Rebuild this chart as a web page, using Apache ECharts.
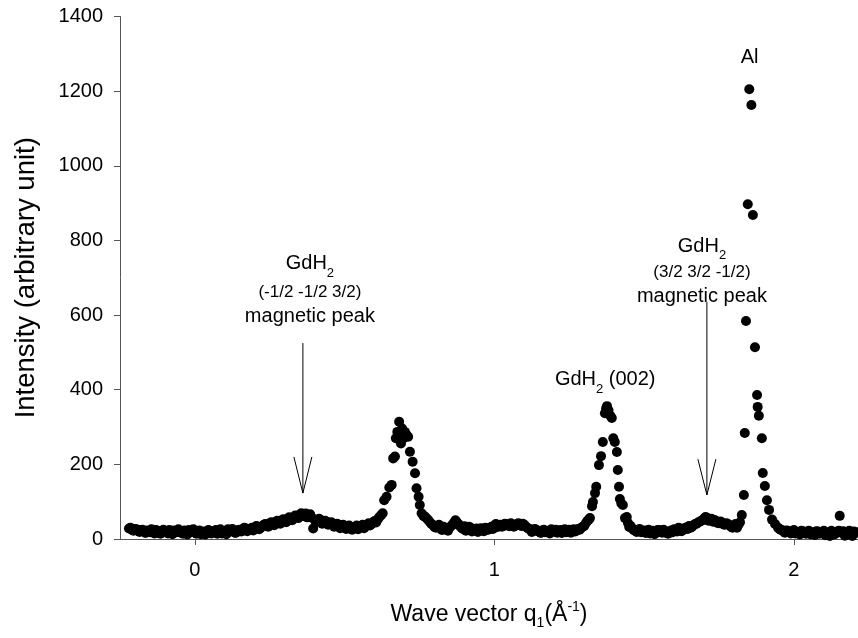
<!DOCTYPE html>
<html><head><meta charset="utf-8">
<script src="https://cdn.jsdelivr.net/npm/echarts@6/dist/echarts.min.js"></script>
<style>html,body{margin:0;padding:0;background:#fff}#c{width:858px;height:638px}</style>
</head><body><div id="c"></div>
<script>
// Scattered neutron intensity vs wave vector, split by region
const segLeft = [
 [-0.22,28],[-0.21,25],[-0.20,27],[-0.19,22],[-0.18,24],[-0.17,20],[-0.16,23],[-0.15,18],[-0.14,21],[-0.13,24],
 [-0.12,17],[-0.11,20],[-0.10,22],[-0.09,15],[-0.08,19],[-0.07,23],[-0.06,18],[-0.05,21],[-0.04,14],[-0.03,20],
 [-0.02,24],[-0.01,19],[0.00,22],[0.01,17],[0.02,13],[0.03,20],[0.04,16],[0.05,22],[0.06,18],[0.07,24],
 [0.08,19],[0.09,15],[0.10,21],[0.11,26],[0.12,20],[0.13,23],[0.14,18],[0.15,25],[0.16,22],[0.17,28],
 [0.18,24],[0.19,30],[0.20,27],[0.21,33],[0.22,30],[0.23,38],[0.24,35],[0.25,42],[0.26,40],[0.27,46],
 [0.28,44],[0.29,50],[0.30,48],[0.31,55],[0.32,52],[0.33,58],[0.34,62],[0.35,60],[0.36,66],[0.37,68],
 [0.38,62],[0.39,57],[0.395,28],[0.40,52],[0.41,48],[0.42,50],[0.43,44],[0.44,46],[0.45,40],[0.46,42],
 [0.47,36],[0.48,38],[0.49,32],[0.50,35],[0.51,30],[0.52,33],[0.53,28],[0.54,36],[0.55,31],[0.56,38],
 [0.57,34],[0.58,42],[0.59,40],[0.60,48],[0.61,52],[0.615,58]
];
const segLeftB = [
 [-0.215,30],[-0.205,22],[-0.195,26],[-0.185,19],[-0.175,25],[-0.165,16],[-0.155,21],[-0.145,26],[-0.135,15],
 [-0.125,22],[-0.115,14],[-0.105,25],[-0.095,20],[-0.085,24],[-0.075,13],[-0.065,21],[-0.055,26],[-0.045,17],
 [-0.035,23],[-0.025,12],[-0.015,21],[-0.005,26],[0.005,14],[0.015,23],[0.025,18],[0.035,12],[0.045,24],
 [0.055,15],[0.065,21],[0.075,14],[0.085,26],[0.095,20],[0.105,13],[0.115,22],[0.125,27],[0.135,16],
 [0.145,24],[0.155,20],[0.165,30],[0.175,21],[0.185,27],[0.195,23],[0.205,35],[0.215,26],[0.225,34],
 [0.235,40],[0.245,33],[0.255,45],[0.265,37],[0.275,49],[0.285,41],[0.295,53],[0.305,45],[0.315,58],
 [0.325,50],[0.335,63],[0.345,56],[0.355,69],[0.365,61],[0.375,58],[0.385,66],[0.405,45],[0.415,54],
 [0.425,41],[0.435,49],[0.445,38],[0.455,45],[0.465,33],[0.475,41],[0.485,29],[0.495,38],[0.505,27],
 [0.515,36],[0.525,25],[0.535,32],[0.545,26],[0.555,35],[0.565,29],[0.575,38],[0.585,36],[0.595,45],[0.605,44]
];
const segPeakA = [
 [0.622,64],[0.627,69],[0.632,104],[0.640,113],[0.649,138],[0.657,145],[0.662,216],[0.668,221],[0.671,270],
 [0.676,287],[0.682,314],[0.688,256],[0.692,296],[0.697,270],[0.701,287],[0.706,280],[0.712,274],[0.718,234],
 [0.727,207],[0.735,176],[0.740,136],[0.747,113],[0.751,91],[0.757,69],[0.763,62],[0.768,60],[0.774,55],
 [0.779,51],[0.785,45],[0.790,40],[0.796,37],[0.800,32]
];
const segMid = [
 [0.81,35],[0.82,28],[0.83,33],[0.84,25],[0.85,30],[0.86,38],[0.87,50],[0.875,45],[0.88,40],[0.89,30],
 [0.90,34],[0.91,26],[0.92,31],[0.93,24],[0.94,28],[0.95,22],[0.96,27],[0.97,30],[0.98,25],[0.99,33],
 [1.00,36],[1.01,32],[1.02,38],[1.03,35],[1.04,40],[1.05,34],[1.06,38],[1.07,36],[1.08,42],[1.09,35],
 [1.10,38],[1.11,30],[1.12,26],[1.13,22],[1.14,25],[1.15,19],[1.16,23],[1.17,18],[1.18,22],[1.19,26],
 [1.20,20],[1.21,17],[1.22,24],[1.23,21],[1.24,18],[1.25,25],[1.26,22],[1.27,20],[1.28,27],[1.29,30],
 [1.30,35],[1.305,42],[1.31,48],[1.315,52]
];
const segMidB = [
 [0.805,30],[0.815,38],[0.825,24],[0.835,29],[0.845,22],[0.855,34],[0.865,44],[0.885,35],[0.895,27],
 [0.905,22],[0.915,33],[0.925,20],[0.935,26],[0.945,19],[0.955,29],[0.965,21],[0.975,26],[0.985,30],
 [0.995,27],[1.005,40],[1.015,35],[1.025,33],[1.035,41],[1.045,36],[1.055,42],[1.065,33],[1.075,40],
 [1.085,37],[1.095,41],[1.105,33],[1.115,27],[1.125,19],[1.135,27],[1.145,21],[1.155,16],[1.165,25],
 [1.175,21],[1.185,15],[1.195,22],[1.205,25],[1.215,20],[1.225,16],[1.235,26],[1.245,22],[1.255,17],
 [1.265,26],[1.275,23],[1.285,25],[1.295,33]
];
const segPeakB = [
 [1.319,56],[1.326,88],[1.329,99],[1.336,123],[1.340,140],[1.349,198],[1.356,222],[1.362,260],[1.369,337],
 [1.373,350],[1.376,356],[1.381,345],[1.387,330],[1.392,324],[1.397,270],[1.402,260],[1.409,233],[1.412,185],
 [1.416,140],[1.419,107],[1.424,95],[1.429,91],[1.436,56],[1.442,59],[1.446,43],[1.450,32]
];
const segRight = [
 [1.46,28],[1.47,22],[1.48,25],[1.49,18],[1.50,23],[1.51,20],[1.52,15],[1.53,22],[1.54,19],[1.55,24],
 [1.56,17],[1.57,21],[1.58,14],[1.59,23],[1.60,26],[1.61,20],[1.62,28],[1.63,24],[1.64,31],[1.65,35],
 [1.66,33],[1.67,40],[1.68,44],[1.69,48],[1.70,55],[1.705,59],[1.71,57],[1.72,52],[1.725,54],[1.73,46],
 [1.74,48],[1.75,42],[1.76,44],[1.77,38],[1.78,40],[1.79,33],[1.80,36],[1.81,30],[1.815,38],[1.82,45]
];
const segRightB = [
 [1.455,35],[1.465,24],[1.475,19],[1.485,27],[1.495,21],[1.505,16],[1.515,25],[1.525,19],[1.535,13],
 [1.545,24],[1.555,20],[1.565,25],[1.575,16],[1.585,20],[1.595,18],[1.605,24],[1.615,30],[1.625,21],
 [1.635,29],[1.645,27],[1.655,30],[1.665,37],[1.675,41],[1.685,46],[1.695,50],[1.715,49],[1.735,51],
 [1.745,43],[1.755,47],[1.765,39],[1.775,42],[1.785,37],[1.795,30],[1.805,40]
];
const segAl = [
 [1.826,64],[1.833,118],[1.836,284],[1.840,584],[1.846,897],[1.851,1205],[1.858,1163],[1.863,868],[1.870,514],
 [1.877,386],[1.879,354],[1.883,330],[1.893,270],[1.896,177],[1.903,142],[1.910,104],[1.917,78],[1.927,52],
 [1.937,40],[1.947,30]
];
const segTail = [
 [1.955,25],[1.965,20],[1.975,23],[1.985,18],[1.995,21],[2.005,15],[2.015,19],[2.025,22],[2.035,16],[2.045,20],
 [2.055,13],[2.065,18],[2.075,21],[2.085,14],[2.095,19],[2.105,10],[2.115,17],[2.125,22],[2.135,12],[2.145,20],
 [2.153,62],[2.16,16],[2.17,9],[2.18,18],[2.19,14],[2.20,20],[2.21,17]
];
const segTailB = [
 [1.95,28],[1.96,24],[1.97,17],[1.98,22],[1.99,15],[2.00,24],[2.01,18],[2.02,12],[2.03,21],[2.04,14],
 [2.05,22],[2.06,16],[2.07,11],[2.08,20],[2.09,16],[2.10,22],[2.11,14],[2.12,8],[2.13,19],[2.14,15],
 [2.15,22],[2.165,21],[2.175,13],[2.185,22],[2.195,8],[2.205,19]
];
const xTickValues = [0, 1, 2];
const yMin = 0, yMax = 1400, yStep = 200;

const FONT = '"Liberation Sans", Arial, Helvetica, sans-serif';
const chart = echarts.init(document.getElementById('c'), null, {renderer: 'canvas'});
const allPoints = [].concat(segLeft, segLeftB, segPeakA, segMid, segMidB, segPeakB,
  segRight, segRightB, segAl, segTail, segTailB);

chart.setOption({
  animation: false,
  backgroundColor: '#fff',
  grid: {left: 120, right: 0, top: 16.5, bottom: 99, containLabel: false},
  xAxis: {
    type: 'value', min: -0.25, max: 2.214,
    splitLine: {show: false},
    axisLine: {show: true, onZero: false, lineStyle: {color: '#555', width: 1}},
    axisTick: {show: true, inside: false, length: 6, customValues: xTickValues, lineStyle: {color: '#555'}},
    axisLabel: {customValues: xTickValues, color: '#000', fontSize: 20, fontFamily: FONT, margin: 21},
    name: '{t|Wave vector q}{sub|1}{t|(Å}{sup|-1}{t|)}',
    nameLocation: 'middle', nameGap: 61,
    nameTextStyle: {
      color: '#000', fontFamily: FONT, fontSize: 23,
      rich: {
        t: {fontSize: 23, fontFamily: FONT, color: '#000', lineHeight: 30, verticalAlign: 'middle'},
        sub: {fontSize: 14, fontFamily: FONT, color: '#000', lineHeight: 30, verticalAlign: 'bottom'},
        sup: {fontSize: 14, fontFamily: FONT, color: '#000', lineHeight: 30, verticalAlign: 'top'}
      }
    }
  },
  yAxis: {
    type: 'value', min: yMin, max: yMax, interval: yStep,
    splitLine: {show: false},
    axisLine: {show: true, onZero: false, lineStyle: {color: '#555', width: 1}},
    axisTick: {show: true, inside: false, length: 6, lineStyle: {color: '#555'}},
    axisLabel: {color: '#000', fontSize: 20, fontFamily: FONT, margin: 17, formatter: v => String(v)},
    name: 'Intensity (arbitrary unit)',
    nameLocation: 'middle', nameGap: 80,
    nameTextStyle: {color: '#000', fontSize: 27.5, fontFamily: FONT}
  },
  series: [{
    type: 'scatter',
    data: allPoints,
    symbol: 'circle',
    symbolSize: 10,
    itemStyle: {color: '#000', opacity: 1},
    silent: true
  }]
});

function px(q, v) { return chart.convertToPixel({gridIndex: 0}, [q, v]); }
const ann = [];
function arrow(q, vTop, vTip, vHead) {
  const a = px(q, vTop), b = px(q, vTip), h = px(q, vHead);
  ann.push({type: 'line', silent: true, shape: {x1: a[0], y1: a[1], x2: b[0], y2: b[1]},
    style: {stroke: '#000', lineWidth: 1}});
  ann.push({type: 'polyline', silent: true,
    shape: {points: [[b[0] - 9, h[1]], [b[0], b[1]], [b[0] + 9, h[1]]]},
    style: {stroke: '#000', fill: null, lineWidth: 1}});
}
const rich = {
  m: {fontSize: 20, fontFamily: FONT, fill: '#000', color: '#000', lineHeight: 24, verticalAlign: 'middle'},
  s: {fontSize: 13, fontFamily: FONT, fill: '#000', color: '#000', lineHeight: 32, verticalAlign: 'bottom'},
  h: {fontSize: 17, fontFamily: FONT, fill: '#000', color: '#000', lineHeight: 20}
};
function label(q, v, text) {
  const p = px(q, v);
  ann.push({type: 'text', silent: true, x: p[0], y: p[1],
    style: {text: text, rich: rich, fill: '#000', font: '20px ' + FONT,
      align: 'center', textAlign: 'center', verticalAlign: 'middle', textVerticalAlign: 'middle'}});
}
// arrows
arrow(0.3606, 525, 123, 220);
arrow(1.7095, 635, 118, 214);
// labels for first magnetic peak
label(0.384, 738, '{m|GdH}{s|2}');
label(0.384, 662, '{h|(-1/2 -1/2 3/2)}');
label(0.384, 596, '{m|magnetic peak}');
// second magnetic peak
label(1.693, 784, '{m|GdH}{s|2}');
label(1.693, 714, '{h|(3/2 3/2 -1/2)}');
label(1.693, 651, '{m|magnetic peak}');
// structural peaks
label(1.37, 427, '{m|GdH}{s|2}{m| (002)}');
label(1.852, 1291, '{m|Al}');
chart.setOption({graphic: ann});
</script>
</body></html>
